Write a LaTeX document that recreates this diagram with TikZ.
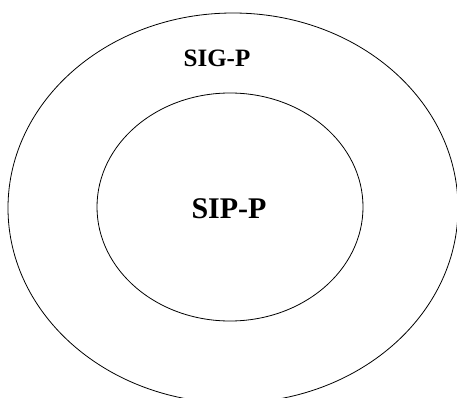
\documentclass[tikz,border=0pt]{standalone}
\usepackage{fontspec}
\setmainfont{Liberation Serif}
\usetikzlibrary{shapes.geometric}
\begin{document}
\begin{tikzpicture}[x=1pt,y=1pt,
  ring/.style={draw=black,line width=0.8pt,ellipse,inner sep=0pt,outer sep=0pt},
  lbl/.style={font=\bfseries,inner sep=0pt,anchor=base}]
\useasboundingbox (0,0) rectangle (457,-398);
\clip (0,0) rectangle (457,-398);
\fill[white] (0,0) rectangle (457,-398);
\node[ring,minimum width=450pt,minimum height=390pt] (outer) at (233,-208) {};
\node[ring,minimum width=266pt,minimum height=228pt] (inner) at (230,-207) {};
\node[lbl,font=\fontsize{25}{25}\bfseries\selectfont] (sig) at (217,-67) {SIG-P};
\node[lbl,font=\fontsize{30}{30}\bfseries\selectfont] (sip) at (229,-218) {SIP-P};
\end{tikzpicture}
\end{document}
